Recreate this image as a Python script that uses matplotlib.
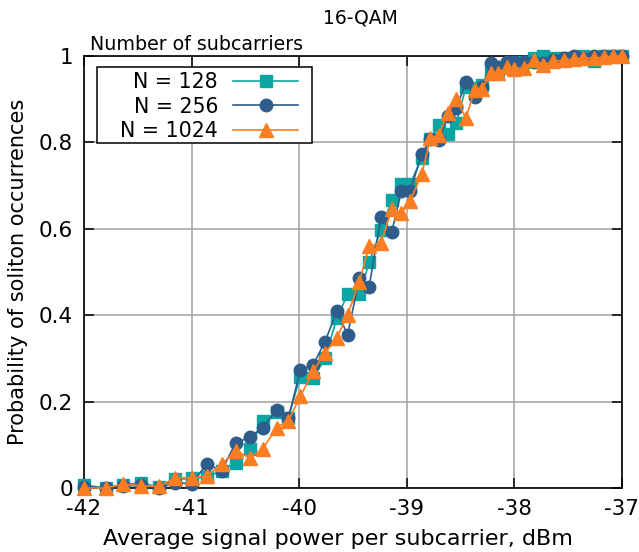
import numpy as np
import matplotlib
matplotlib.use("Agg")
import matplotlib.pyplot as plt
from matplotlib.patches import Rectangle

plt.rcParams["axes.unicode_minus"] = False
plt.rcParams["font.family"] = "DejaVu Sans"

# average signal power per subcarrier, dBm
power = [-42.00, -41.80, -41.64, -41.47, -41.30, -41.15, -41.00, -40.86, -40.72, -40.59,
         -40.46, -40.34, -40.21, -40.10, -39.99, -39.87, -39.76, -39.65, -39.55, -39.44,
         -39.35, -39.24, -39.14, -39.05, -38.97, -38.86, -38.78, -38.70, -38.62, -38.54,
         -38.45, -38.37, -38.30, -38.22, -38.15, -38.07, -38.00, -37.91, -37.82, -37.73,
         -37.64, -37.54, -37.45, -37.36, -37.26, -37.17, -37.08, -37.00]

p_128 = [0.007, 0.000, 0.008, 0.012, 0.002, 0.020, 0.022, 0.025, 0.040, 0.059,
         0.090, 0.156, 0.175, 0.163, 0.258, 0.255, 0.300, 0.394, 0.448, 0.448,
         0.522, 0.598, 0.666, 0.703, 0.703, 0.765, 0.807, 0.840, 0.820, 0.844,
         0.929, 0.925, 0.933, 0.968, 0.968, 0.979, 0.979, 0.985, 0.995, 1.000,
         0.995, 0.995, 0.995, 1.000, 0.988, 1.000, 1.000, 1.000]

p_256 = [0.003, 0.000, 0.005, 0.006, 0.000, 0.012, 0.010, 0.055, 0.040, 0.105,
         0.117, 0.140, 0.180, 0.163, 0.272, 0.285, 0.339, 0.409, 0.355, 0.487,
         0.466, 0.627, 0.593, 0.687, 0.687, 0.773, 0.808, 0.806, 0.860, 0.879,
         0.940, 0.904, 0.929, 0.983, 0.975, 0.985, 0.987, 0.987, 0.985, 0.983,
         0.990, 0.995, 1.000, 0.995, 1.000, 1.000, 1.000, 1.000]

p_1024 = [0.000, 0.000, 0.009, 0.005, 0.004, 0.024, 0.023, 0.028, 0.055, 0.086,
          0.070, 0.090, 0.140, 0.156, 0.212, 0.270, 0.313, 0.348, 0.401, 0.478,
          0.560, 0.567, 0.645, 0.636, 0.664, 0.727, 0.810, 0.817, 0.867, 0.900,
          0.856, 0.921, 0.923, 0.961, 0.960, 0.975, 0.971, 0.972, 0.990, 0.979,
          0.988, 0.990, 0.993, 0.995, 0.995, 0.997, 1.000, 1.000]

x_ticks = [-42, -41, -40, -39, -38, -37]
y_ticks = [0, 0.2, 0.4, 0.6, 0.8, 1]
y_tick_labels = ["0", "0.2", "0.4", "0.6", "0.8", "1"]

W, H = 639, 552
fig = plt.figure(figsize=(W / 100, H / 100), dpi=100)
ax = fig.add_axes([84 / W, 1 - 488 / H, 538 / W, 432 / H])

series = [
    (p_128, "N = 128", "#0aa6a4", "s", 8.5),
    (p_256, "N = 256", "#2e5d8c", "o", 9.0),
    (p_1024, "N = 1024", "#fb7d22", "^", 9.5),
]
for vals, lab, col, mk, ms in series:
    ax.plot(power, vals, color=col, marker=mk, markersize=ms, linewidth=1.2,
            label=lab, clip_on=False, zorder=3)

ax.set_xlim(-42, -37)
ax.set_ylim(0, 1)
ax.set_xticks(x_ticks)
ax.set_yticks(y_ticks)
ax.set_yticklabels(y_tick_labels)
ax.grid(True, color="#a0a0a0", linewidth=1.1)
ax.set_axisbelow(True)
ax.tick_params(direction="in", length=7, width=1.1, labelsize=15.5,
               top=True, right=True, pad=8)
for s in ax.spines.values():
    s.set_linewidth(1.2)

ax.set_xlabel("Average signal power per subcarrier, dBm", fontsize=16, labelpad=4)
ax.xaxis.set_label_coords((338 - 84) / 538, -0.095)
ax.set_ylabel("Probability of soliton occurrences", fontsize=15, labelpad=8)
fig.text(360 / W, 1 - 18 / H, "16-QAM", fontsize=13.5, ha="center", va="center")

# legend box drawn by hand, legend itself without frame
box = Rectangle((97 / W, 1 - 143 / H), 215 / W, 76 / H, transform=fig.transFigure,
                facecolor="white", edgecolor="black", linewidth=1.1, zorder=4.5,
                clip_on=False)
ax.add_patch(box)
leg = ax.legend(loc="upper left", bbox_to_anchor=(115 / W, 1 - 67 / H),
                bbox_transform=fig.transFigure, borderaxespad=0, markerfirst=False,
                fontsize=14.8, handlelength=3.15, labelspacing=0.22, borderpad=0.25,
                handletextpad=0.75, frameon=False)
leg.set_zorder(5)
for t in leg.get_texts():
    t.set_ha("right")
leg._legend_box.align = "right"
fig.text(90 / W, 1 - 45 / H, "Number of subcarriers", fontsize=13.7, ha="left", va="center")

fig.savefig("out.png", dpi=100)
